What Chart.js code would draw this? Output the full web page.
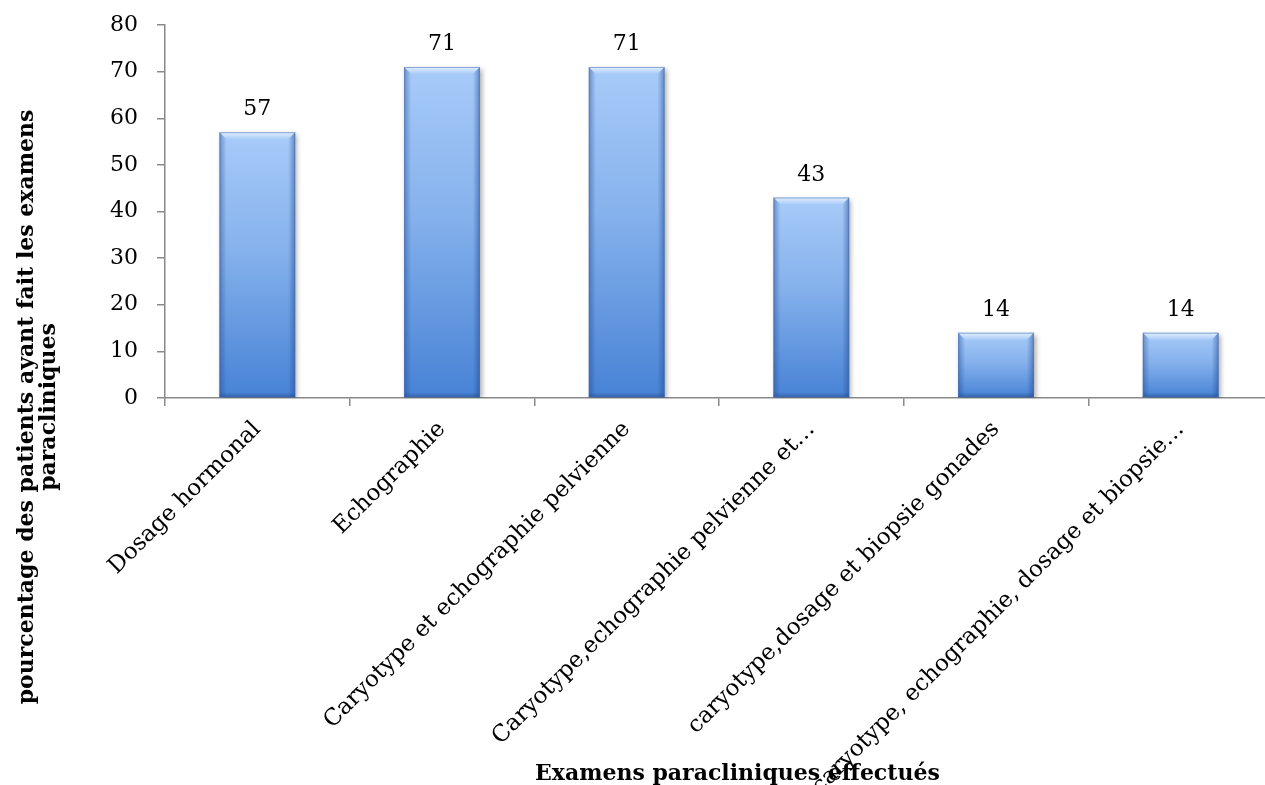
<!DOCTYPE html>
<html>
<head>
<meta charset="utf-8">
<script src="https://cdn.jsdelivr.net/npm/chart.js@4.4.0/dist/chart.umd.min.js"></script>
<style>
  html, body { margin: 0; padding: 0; background: #ffffff; overflow: hidden; width: 1265px; height: 785px; }
  canvas { display: block; }
</style>
</head>
<body>
<canvas id="c" width="1300" height="785"></canvas>
<script>
// ---- data ----
const categories = [
  "Dosage hormonal",
  "Echographie",
  "Caryotype et echographie pelvienne",
  "Caryotype,echographie pelvienne et…",
  "caryotype,dosage et biopsie gonades",
  "caryotype, echographie, dosage et biopsie…"
];
const values = [57, 71, 71, 43, 14, 14];
const yTicks = [0, 10, 20, 30, 40, 50, 60, 70, 80];
const yTitleLines = ["pourcentage des patients ayant fait les examens", "paracliniques"];
const xTitle = "Examens paracliniques effectués";

const SERIF = "'DejaVu Serif', serif";
const AXIS_COLOR = "#8a8a8a";

// per-bar vertical gradient
function barFill(ctx) {
  const chart = ctx.chart;
  const ys = chart.scales && chart.scales.y;
  if (!chart.chartArea || !ys || ctx.type !== 'data') return '#7aa7e6';
  const top = ys.getPixelForValue(ctx.raw);
  const base = ys.getPixelForValue(0);
  const g = chart.ctx.createLinearGradient(0, top, 0, base);
  g.addColorStop(0, '#a8cbf9');
  g.addColorStop(0.45, '#85b1ec');
  g.addColorStop(1, '#4782d5');
  return g;
}

const shadowPlugin = {
  id: 'barShadow',
  beforeDatasetsDraw(chart) {
    const c = chart.ctx;
    c.save();
    c.shadowColor = 'rgba(0,0,0,0.35)';
    c.shadowBlur = 5;
    c.shadowOffsetX = 2;
    c.shadowOffsetY = 2;
  },
  afterDatasetsDraw(chart) {
    chart.ctx.restore();
  }
};

const bevelPlugin = {
  id: 'bevel',
  afterDatasetsDraw(chart) {
    const c = chart.ctx;
    const meta = chart.getDatasetMeta(0);
    meta.data.forEach((el) => {
      const x0 = el.x - el.width / 2, x1 = el.x + el.width / 2;
      const top = el.y, base = el.base;
      const h = base - top;
      const b = Math.min(7, h / 2);
      c.save();
      let g = c.createLinearGradient(x0, 0, x0 + 7, 0);
      g.addColorStop(0, 'rgba(30,70,140,0.45)');
      g.addColorStop(1, 'rgba(30,70,140,0)');
      c.fillStyle = g;
      c.fillRect(x0, top, 7, h);
      g = c.createLinearGradient(x1, 0, x1 - 7, 0);
      g.addColorStop(0, 'rgba(30,70,140,0.5)');
      g.addColorStop(1, 'rgba(30,70,140,0)');
      c.fillStyle = g;
      c.fillRect(x1 - 7, top, 7, h);
      g = c.createLinearGradient(0, base, 0, base - 5);
      g.addColorStop(0, 'rgba(25,60,120,0.45)');
      g.addColorStop(1, 'rgba(25,60,120,0)');
      c.fillStyle = g;
      c.fillRect(x0, base - 5, el.width, 5);
      c.beginPath();
      c.moveTo(x0, top);
      c.lineTo(x1, top);
      c.lineTo(x1 - b, top + b);
      c.lineTo(x0 + b, top + b);
      c.closePath();
      g = c.createLinearGradient(0, top, 0, top + b);
      g.addColorStop(0, '#e4f0fe');
      g.addColorStop(1, '#a8cbf8');
      c.fillStyle = g;
      c.fill();
      c.strokeStyle = 'rgba(70,110,180,0.55)';
      c.lineWidth = 1;
      c.strokeRect(x0 + 0.5, top + 0.5, el.width - 1, h - 1);
      c.restore();
    });
  }
};

const valueLabels = {
  id: 'valueLabels',
  afterDatasetsDraw(chart) {
    const c = chart.ctx;
    const meta = chart.getDatasetMeta(0);
    c.save();
    c.font = "22px " + SERIF;
    c.fillStyle = '#000';
    c.textAlign = 'center';
    c.textBaseline = 'alphabetic';
    meta.data.forEach((el, i) => {
      c.fillText(String(values[i]), el.x, el.y - 17);
    });
    c.restore();
  }
};

const axisTitles = {
  id: 'axisTitles',
  afterDraw(chart) {
    const c = chart.ctx;
    c.save();
    c.fillStyle = '#000';
    c.font = "bold 22px " + SERIF;
    c.translate(0, 407);
    c.rotate(-Math.PI / 2);
    c.textAlign = 'center';
    c.textBaseline = 'middle';
    c.fillText(yTitleLines[0], 0, 27);
    c.fillText(yTitleLines[1], 0, 49);
    c.restore();
    c.save();
    c.fillStyle = '#000';
    c.font = "bold 22px " + SERIF;
    c.textAlign = 'left';
    c.textBaseline = 'alphabetic';
    c.fillText(xTitle, 535, 780);
    c.restore();
  }
};

new Chart(document.getElementById('c'), {
  type: 'bar',
  data: {
    labels: categories,
    datasets: [{
      data: values,
      backgroundColor: barFill,
      borderWidth: 0,
      barPercentage: 0.41,
      categoryPercentage: 1.0
    }]
  },
  options: {
    responsive: false,
    animation: false,
    devicePixelRatio: 1,
    layout: { padding: { top: 25, right: 27, left: 0, bottom: 0 } },
    plugins: {
      legend: { display: false },
      tooltip: { enabled: false },
      title: { display: false }
    },
    scales: {
      x: {
        grid: {
          display: true,
          offset: true,
          drawOnChartArea: false,
          drawTicks: true,
          tickLength: 8,
          color: AXIS_COLOR,
          lineWidth: 1.5
        },
        border: { display: true, color: AXIS_COLOR, width: 1.5 },
        ticks: {
          autoSkip: false,
          maxRotation: 45,
          minRotation: 45,
          padding: 10,
          color: '#000',
          font: { family: SERIF, size: 23 }
        },
        afterFit(scale) { scale.height = 387; }
      },
      y: {
        min: yTicks[0],
        max: yTicks[yTicks.length - 1],
        grid: {
          display: true,
          drawOnChartArea: false,
          drawTicks: true,
          tickLength: 8,
          color: AXIS_COLOR,
          lineWidth: 1.5
        },
        border: { display: true, color: AXIS_COLOR, width: 1.5 },
        afterBuildTicks(scale) { scale.ticks = yTicks.map(v => ({ value: v })); },
        ticks: {
          padding: 19,
          color: '#000',
          font: { family: SERIF, size: 22 }
        },
        afterFit(scale) {
          scale.width = 165;
          scale.paddingTop = 0;
          scale.paddingBottom = 0;
        }
      }
    }
  },
  plugins: [shadowPlugin, bevelPlugin, valueLabels, axisTitles]
});
</script>
</body>
</html>
